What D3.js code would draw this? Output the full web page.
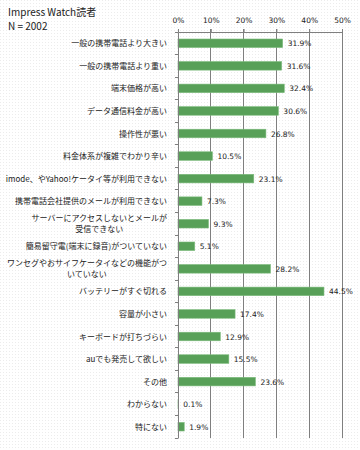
<!DOCTYPE html>
<html><head><meta charset="utf-8">
<script src="https://cdn.jsdelivr.net/npm/d3@7"></script>
<style>body{margin:0;background:#fff}svg{display:block}</style>
</head><body><svg id="c" width="360" height="450"></svg>
<script>
const categories = [
  ["一般の携帯電話より大きい"],
  ["一般の携帯電話より重い"],
  ["端末価格が高い"],
  ["データ通信料金が高い"],
  ["操作性が悪い"],
  ["料金体系が複雑でわかり辛い"],
  ["imode、やYahoo!ケータイ等が利用できない"],
  ["携帯電話会社提供のメールが利用できない"],
  ["サーバーにアクセスしないとメールが","受信できない"],
  ["簡易留守電(端末に録音)がついていない"],
  ["ワンセグやおサイフケータイなどの機能がつ","いていない"],
  ["バッテリーがすぐ切れる"],
  ["容量が小さい"],
  ["キーボードが打ちづらい"],
  ["auでも発売して欲しい"],
  ["その他"],
  ["わからない"],
  ["特にない"]
];
const values = [31.9,31.6,32.4,30.6,26.8,10.5,23.1,7.3,9.3,5.1,28.2,44.5,17.4,12.9,15.5,23.6,0.1,1.9];
const xTicks = [0,10,20,30,40,50];
const title = ["Impress Watch読者","N = 2002"];

const svg = d3.select("#c");
const defs = svg.append("defs");
const pat = defs.append("pattern").attr("id","dots").attr("width",3).attr("height",3).attr("patternUnits","userSpaceOnUse");
pat.append("rect").attr("width",3).attr("height",3).attr("fill","#fff");
pat.append("rect").attr("width",1).attr("height",1).attr("fill","#ececec");
svg.append("rect").attr("width",360).attr("height",450).attr("fill","url(#dots)");

const L=178, R=342, T=32, B=438;
const x = d3.scaleLinear().domain([0,50]).range([L,R]);
const y = d3.scaleBand().domain(d3.range(categories.length)).range([T,B]).paddingInner(0.62).paddingOuter(0.31);
const band = d3.scaleBand().domain(d3.range(categories.length)).range([T,B]);

// title
svg.selectAll("text.title").data(title).join("text")
  .attr("x",8).attr("y",(d,i)=>16+i*14)
  .attr("font-family","'Noto Sans CJK JP','DejaVu Sans',sans-serif").attr("font-size",10).attr("fill","#222")
  .text(d=>d);

// gridlines
const g = svg.append("g");
g.selectAll("line.grid").data(xTicks.slice(1)).join("line")
  .attr("x1",d=>x(d)).attr("x2",d=>x(d)).attr("y1",T-3).attr("y2",B)
  .attr("stroke","#7f7f7f").attr("stroke-width",1).attr("shape-rendering","crispEdges");

// top axis
const ax = d3.axisTop(x).tickValues(xTicks).tickFormat(d=>d+"%").tickSize(3).tickPadding(6);
const axg = svg.append("g").attr("transform",`translate(0,${T})`).call(ax);
axg.select(".domain").attr("stroke","#7f7f7f");
axg.selectAll(".tick line").attr("stroke","#7f7f7f");
axg.selectAll("text").attr("font-family","'DejaVu Sans',sans-serif").attr("font-size",7.5).attr("fill","#222");

// bars
svg.selectAll("rect.bar").data(values).join("rect")
  .attr("x",x(0)).attr("y",(d,i)=>y(i)).attr("width",d=>x(d)-x(0)).attr("height",y.bandwidth())
  .attr("fill","#58a058").attr("stroke","#7dbb7d").attr("stroke-width",0.6);

// value labels
svg.selectAll("text.val").data(values).join("text")
  .attr("x",d=>x(d)+5).attr("y",(d,i)=>y(i)+y.bandwidth()/2+3)
  .attr("font-family","'DejaVu Sans',sans-serif").attr("font-size",7.5).attr("fill","#222")
  .text(d=>d.toFixed(1)+"%");

// left axis
const ay = d3.axisLeft(band).tickValues([]).tickSize(0);
const ayg = svg.append("g").attr("transform",`translate(${L},0)`).call(ay);
ayg.select(".domain").attr("stroke","#7f7f7f");
svg.selectAll("line.yt").data(d3.range(categories.length+1)).join("line")
  .attr("x1",L-3).attr("x2",L).attr("y1",i=>T+i*band.step()).attr("y2",i=>T+i*band.step())
  .attr("stroke","#7f7f7f").attr("shape-rendering","crispEdges");

// category labels
const cl = svg.selectAll("g.cat").data(categories).join("g");
cl.each(function(lines,i){
  const gg = d3.select(this);
  const cy = band(i)+band.step()/2;
  const n = lines.length;
  const t0 = gg.append("text").attr("x",167).attr("y",cy+3-(n-1)*5.5)
    .attr("text-anchor","end")
    .attr("font-family","'Noto Sans CJK JP',sans-serif").attr("font-size",8).attr("fill","#222").text(lines[0]);
  if(n>1){
    const w = t0.node().getComputedTextLength();
    gg.append("text").attr("x",167-w/2).attr("y",cy+3+5.5)
      .attr("text-anchor","middle")
      .attr("font-family","'Noto Sans CJK JP',sans-serif").attr("font-size",8).attr("fill","#222").text(lines[1]);
  }
});
</script></body></html>
